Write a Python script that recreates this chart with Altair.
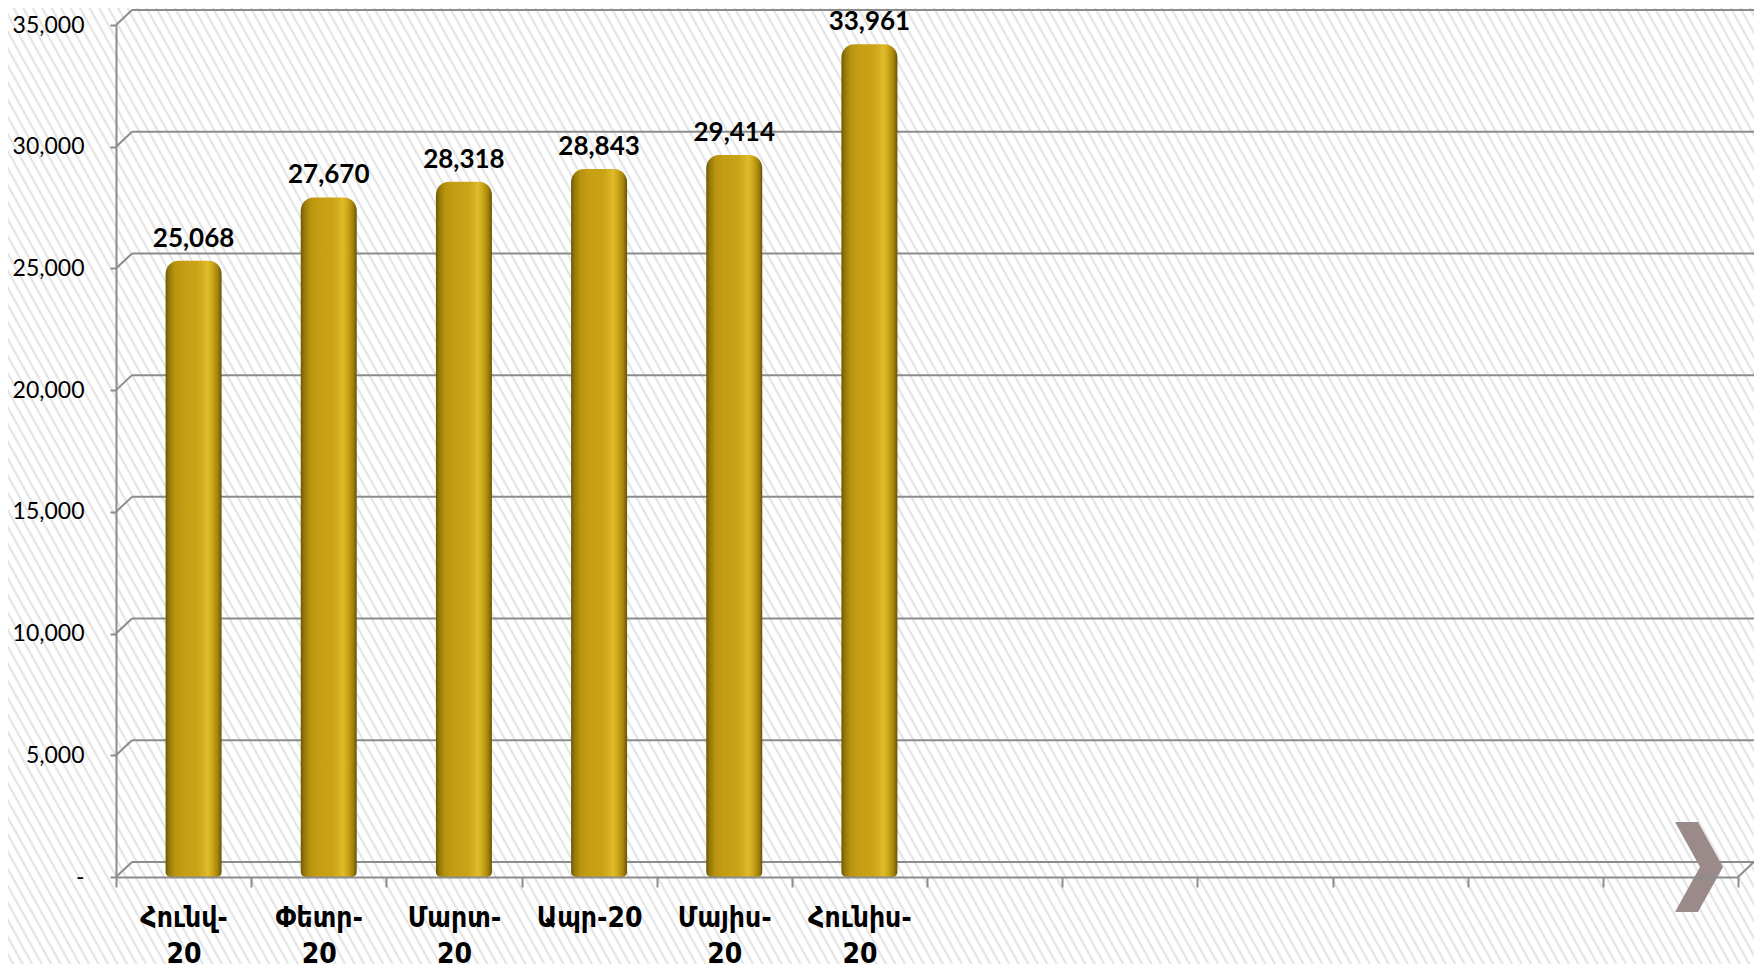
import altair as alt
import pandas as pd

# ---- data ----
months = ["Հունվ-20", "Փետր-20", "Մարտ-20", "Ապր-20", "Մայիս-20", "Հունիս-20"]
values = [25068, 27670, 28318, 28843, 29414, 33961]
empty_slots = ["_7", "_8", "_9", "_10", "_11", "_12"]
y_ticks = [0, 5000, 10000, 15000, 20000, 25000, 30000, 35000]

W, H = 1622, 852
PAD_L, PAD_T, PAD_R, PAD_B = 108, 17, 16, 87
DX, DY = 16, -15  # depth offset of the back wall
AXIS_GREY = "#8c8c8c"

bars_df = pd.DataFrame({"month": months, "value": values})
ticks_df = pd.DataFrame({"value": y_ticks})
floor_df = pd.DataFrame({"value": [0]})

x_enc = alt.X(
    "month:N",
    sort=months + empty_slots,
    scale=alt.Scale(domain=months + empty_slots, paddingInner=0, paddingOuter=0),
    axis=alt.Axis(
        title=None, grid=False, zindex=1, labelAngle=0,
        domainColor=AXIS_GREY, domainWidth=2,
        tickColor=AXIS_GREY, tickWidth=2, tickSize=10, tickBand="extent",
        labelFont="DejaVu Sans Condensed", labelFontWeight="bold",
        labelFontSize=28, labelColor="#000000", labelLineHeight=36,
        labelPadding=17, labelOverlap=False, labelBound=False, labelFlush=False,
        labelExpr="datum.label == 'Ապր-20' ? datum.label : "
                  "(indexof(datum.label, '-') > 0 ? [replace(datum.label, '-20', '-'), '20'] : '')",
    ),
)
y_enc = alt.Y(
    "value:Q",
    scale=alt.Scale(domain=[0, 35000], nice=False, zero=True),
    axis=alt.Axis(
        title=None, grid=False, zindex=1, values=y_ticks,
        domainColor=AXIS_GREY, domainWidth=2,
        tickColor=AXIS_GREY, tickWidth=2, tickSize=6,
        labelFont="Lato", labelFontSize=23, labelColor="#000000",
        labelPadding=26, labelFlush=False, labelOverlap=False,
        labelExpr="datum.value == 0 ? '-' : format(datum.value, ',')",
    ),
)

# ---- hatched background via a striped linear gradient ----
gx, gy = 1.0, -0.304
k = 1.1937
periods = 240
stops = []
for i in range(periods):
    p = i / periods
    T = 1 / periods
    stops.append(alt.GradientStop(offset=round(p, 5), color="#ffffff"))
    stops.append(alt.GradientStop(offset=round(p + 0.33 * T, 5), color="#ffffff"))
    stops.append(alt.GradientStop(offset=round(p + 0.55 * T, 5), color="#dfdfdf"))
    stops.append(alt.GradientStop(offset=round(p + 0.77 * T, 5), color="#ffffff"))
hatch = alt.Gradient(
    gradient="linear", stops=stops,
    x1=0, y1=1, x2=round(k * gx, 4), y2=round(1 + k * gy, 4),
)
background = alt.Chart(floor_df).mark_rect(fill=hatch, strokeWidth=0).encode(
    x=alt.value(-PAD_L), x2=alt.value(W + PAD_R),
    y=alt.value(-PAD_T), y2=alt.value(H + PAD_B),
)

# ---- back wall gridlines and side-wall diagonals ----
grid_back = alt.Chart(ticks_df).mark_rule(
    color=AXIS_GREY, strokeWidth=2, yOffset=DY
).encode(y=y_enc, x=alt.value(DX), x2=alt.value(W + DX))

grid_side = alt.Chart(ticks_df).mark_rule(
    color=AXIS_GREY, strokeWidth=2, y2Offset=DY
).encode(y=y_enc, y2=alt.Y2("value:Q"), x=alt.value(0), x2=alt.value(DX))

floor_right = alt.Chart(floor_df).mark_rule(
    color=AXIS_GREY, strokeWidth=2, y2Offset=DY
).encode(y=y_enc, y2=alt.Y2("value:Q"), x=alt.value(W), x2=alt.value(W + DX))

# ---- cylinder-like bars ----
bar_fill = alt.Gradient(
    gradient="linear", x1=0, x2=1, y1=0, y2=0,
    stops=[
        alt.GradientStop(offset=0.0, color="#6b5604"),
        alt.GradientStop(offset=0.06, color="#94780a"),
        alt.GradientStop(offset=0.16, color="#b8930f"),
        alt.GradientStop(offset=0.32, color="#c59e14"),
        alt.GradientStop(offset=0.56, color="#c9a216"),
        alt.GradientStop(offset=0.68, color="#d6b021"),
        alt.GradientStop(offset=0.75, color="#dfbc2c"),
        alt.GradientStop(offset=0.83, color="#cea817"),
        alt.GradientStop(offset=0.93, color="#a4840c"),
        alt.GradientStop(offset=1.0, color="#685303"),
    ],
)
bars = alt.Chart(bars_df).mark_bar(
    fill=bar_fill, width=56, xOffset=10, yOffset=-6,
    cornerRadiusTopLeft=13, cornerRadiusTopRight=13,
    cornerRadiusBottomLeft=5, cornerRadiusBottomRight=5,
).encode(x=x_enc, y=y_enc, y2=alt.Y2(datum=0))

labels = alt.Chart(bars_df).mark_text(
    font="Lato", fontWeight="bold", fontSize=26, color="#000000",
    baseline="alphabetic", align="center", dx=10, dy=-20,
).encode(x=x_enc, y=y_enc, text=alt.Text("value:Q", format=","))

# ---- chevron decoration at bottom right ----
chevron = alt.Chart(floor_df).mark_point(
    shape="M-0.533,-1 L-0.022,-1 L0.533,0 L-0.022,1 L-0.533,1 L0.022,0 Z",
    size=8100, filled=True, fill="#9b8a8a", opacity=1, strokeWidth=0,
).encode(x=alt.value(1583), y=alt.value(842))

chart = (
    alt.layer(background, grid_back, grid_side, floor_right, bars, labels, chevron)
    .properties(
        width=W, height=H,
        autosize=alt.AutoSizeParams(type="none"),
        padding={"left": PAD_L, "top": PAD_T, "right": PAD_R, "bottom": PAD_B},
        background="#ffffff",
    )
    .configure_view(strokeWidth=0)
)

chart.save("out.html", embed_options={"renderer": "svg", "actions": False})
